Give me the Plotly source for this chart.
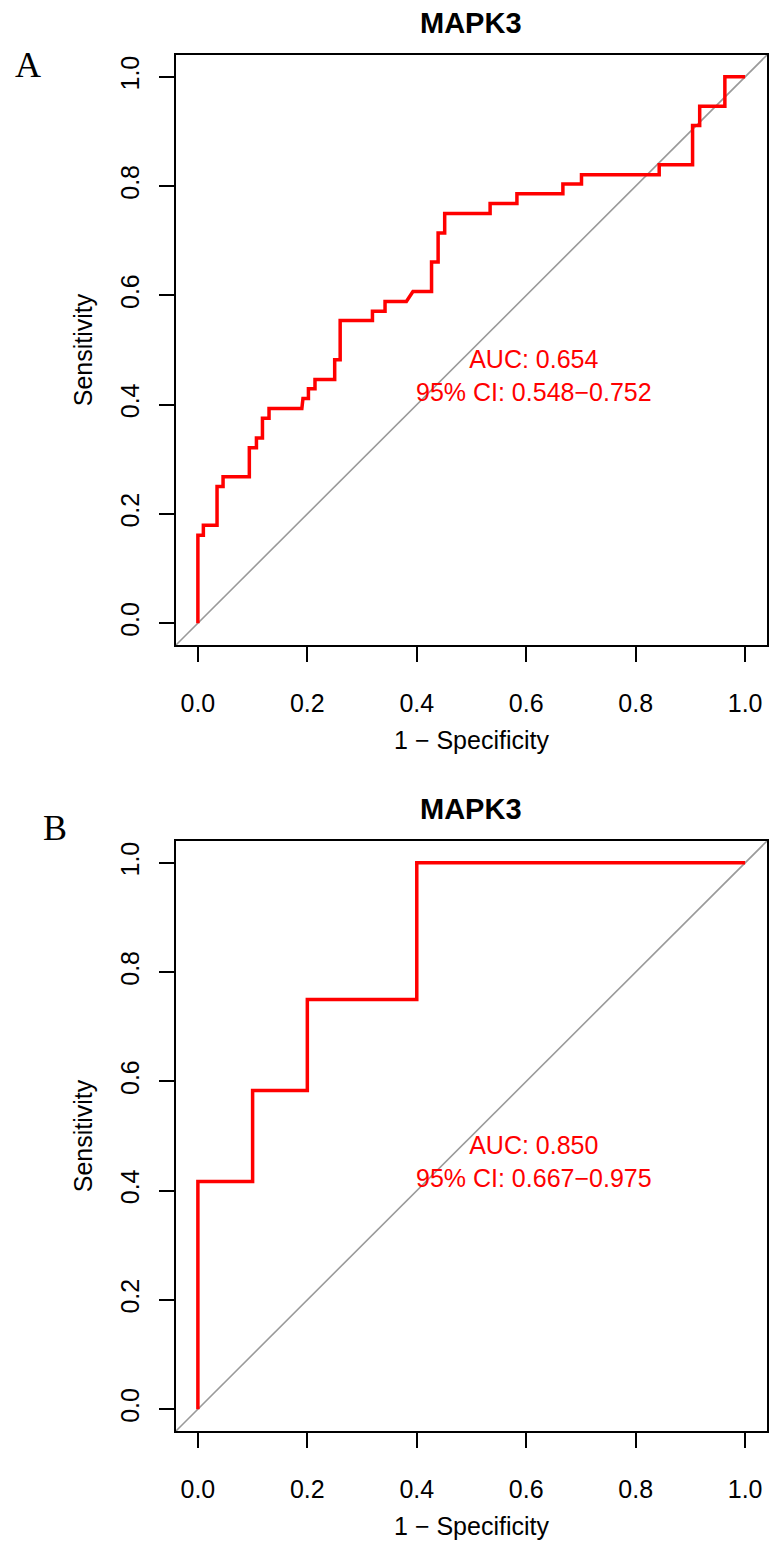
import plotly.graph_objects as go

# ---------------- data ----------------
panel_labels = ["A", "B"]
panel_titles = ["MAPK3", "MAPK3"]

# Panel A ROC curve (1 - specificity, sensitivity)
fpr_a = [0.000, 0.000, 0.010, 0.010, 0.035, 0.035, 0.046, 0.046, 0.094, 0.094,
         0.107, 0.107, 0.118, 0.118, 0.130, 0.130, 0.190, 0.192, 0.202, 0.202,
         0.214, 0.214, 0.250, 0.250, 0.260, 0.260, 0.319, 0.319, 0.342, 0.342,
         0.381, 0.393, 0.427, 0.427, 0.439, 0.439, 0.451, 0.451, 0.534, 0.534,
         0.583, 0.583, 0.667, 0.667, 0.701, 0.701, 0.843, 0.843, 0.904, 0.904,
         0.917, 0.917, 0.963, 0.963, 1.000]
tpr_a = [0.000, 0.161, 0.161, 0.179, 0.179, 0.250, 0.250, 0.268, 0.268, 0.321,
         0.321, 0.339, 0.339, 0.375, 0.375, 0.393, 0.393, 0.411, 0.411, 0.429,
         0.429, 0.446, 0.446, 0.482, 0.482, 0.554, 0.554, 0.571, 0.571, 0.589,
         0.589, 0.607, 0.607, 0.661, 0.661, 0.714, 0.714, 0.750, 0.750, 0.768,
         0.768, 0.786, 0.786, 0.804, 0.804, 0.821, 0.821, 0.839, 0.839, 0.911,
         0.911, 0.946, 0.946, 1.000, 1.000]

# Panel B ROC curve
fpr_b = [0.0, 0.0, 0.1, 0.1, 0.2, 0.2, 0.4, 0.4, 1.0]
tpr_b = [0.0, 0.4167, 0.4167, 0.5833, 0.5833, 0.75, 0.75, 1.0, 1.0]

auc_texts = ["AUC: 0.654<br>95% CI: 0.548\u22120.752",
             "AUC: 0.850<br>95% CI: 0.667\u22120.975"]

tick_vals = [0.0, 0.2, 0.4, 0.6, 0.8, 1.0]
tick_text = ["0.0", "0.2", "0.4", "0.6", "0.8", "1.0"]
x_title = "1 \u2212 Specificity"
y_title = "Sensitivity"
auc_pos = (0.614, 0.453)
axis_range = [-0.04, 1.04]

# ---------------- layout geometry ----------------
W, H = 770, 1544
x_dom = [176 / W, 767 / W]
y_doms = [[1 - 645 / H, 1 - 55 / H], [1 - 1431 / H, 1 - 841 / H]]
box_tops = [55, 841]

SANS = "Liberation Sans, Arial, Helvetica, sans-serif"
SERIF = "Liberation Serif, Times New Roman, serif"
RED = "#FF0000"
FS = 25

fig = go.Figure()
curves = [(fpr_a, tpr_a), (fpr_b, tpr_b)]

annotations = []
shapes = []
for i, (fx, ty) in enumerate(curves):
    n = "" if i == 0 else str(i + 1)
    fig.add_trace(go.Scatter(x=fx, y=ty, mode="lines",
                             line=dict(color=RED, width=3.5),
                             xaxis="x" + n, yaxis="y" + n,
                             showlegend=False, hoverinfo="skip"))
    axis_common = dict(range=axis_range, tickvals=tick_vals, ticktext=tick_text,
                       ticks="outside", ticklen=15, tickwidth=2, tickcolor="black",
                       showline=True, linewidth=2, linecolor="black", mirror=True,
                       showgrid=False, zeroline=False, fixedrange=True,
                       tickfont=dict(family=SANS, size=FS, color="black"))
    fig.update_layout(**{
        "xaxis" + n: dict(domain=x_dom, anchor="y" + n, ticklabelstandoff=20,
                          title=dict(text=x_title, standoff=15,
                                     font=dict(family=SANS, size=FS, color="black")),
                          **axis_common),
        "yaxis" + n: dict(domain=y_doms[i], anchor="x" + n, tickangle=-90,
                          ticklabelstandoff=10,
                          title=dict(text=y_title, standoff=16,
                                     font=dict(family=SANS, size=FS, color="black")),
                          **axis_common),
    })
    # diagonal reference line across the plotting region
    shapes.append(dict(type="line", xref="x" + n + " domain", yref="y" + n + " domain",
                       x0=0, y0=0, x1=1, y1=1,
                       line=dict(color="#9A9A9A", width=1.6), layer="below"))
    # AUC text
    annotations.append(dict(x=auc_pos[0], y=auc_pos[1], xref="x" + n, yref="y" + n,
                            text=auc_texts[i], showarrow=False, align="center",
                            xanchor="center", yanchor="middle",
                            font=dict(family=SANS, size=FS, color=RED)))
    # panel title
    annotations.append(dict(x=471.5 / W, y=1 - (box_tops[i] - 32.5) / H,
                            xref="paper", yref="paper", text="<b>%s</b>" % panel_titles[i],
                            showarrow=False, xanchor="center", yanchor="middle",
                            font=dict(family=SANS, size=29, color="black")))

# panel letters
annotations.append(dict(x=28 / W, y=1 - 65 / H, xref="paper", yref="paper",
                        text=panel_labels[0], showarrow=False, xanchor="center",
                        yanchor="middle", font=dict(family=SERIF, size=36, color="black")))
annotations.append(dict(x=55 / W, y=1 - 828 / H, xref="paper", yref="paper",
                        text=panel_labels[1], showarrow=False, xanchor="center",
                        yanchor="middle", font=dict(family=SERIF, size=36, color="black")))

fig.update_layout(width=W, height=H, autosize=False,
                  margin=dict(l=0, r=0, t=0, b=0),
                  paper_bgcolor="white", plot_bgcolor="white",
                  shapes=shapes, annotations=annotations)

fig.write_html("out.html")
